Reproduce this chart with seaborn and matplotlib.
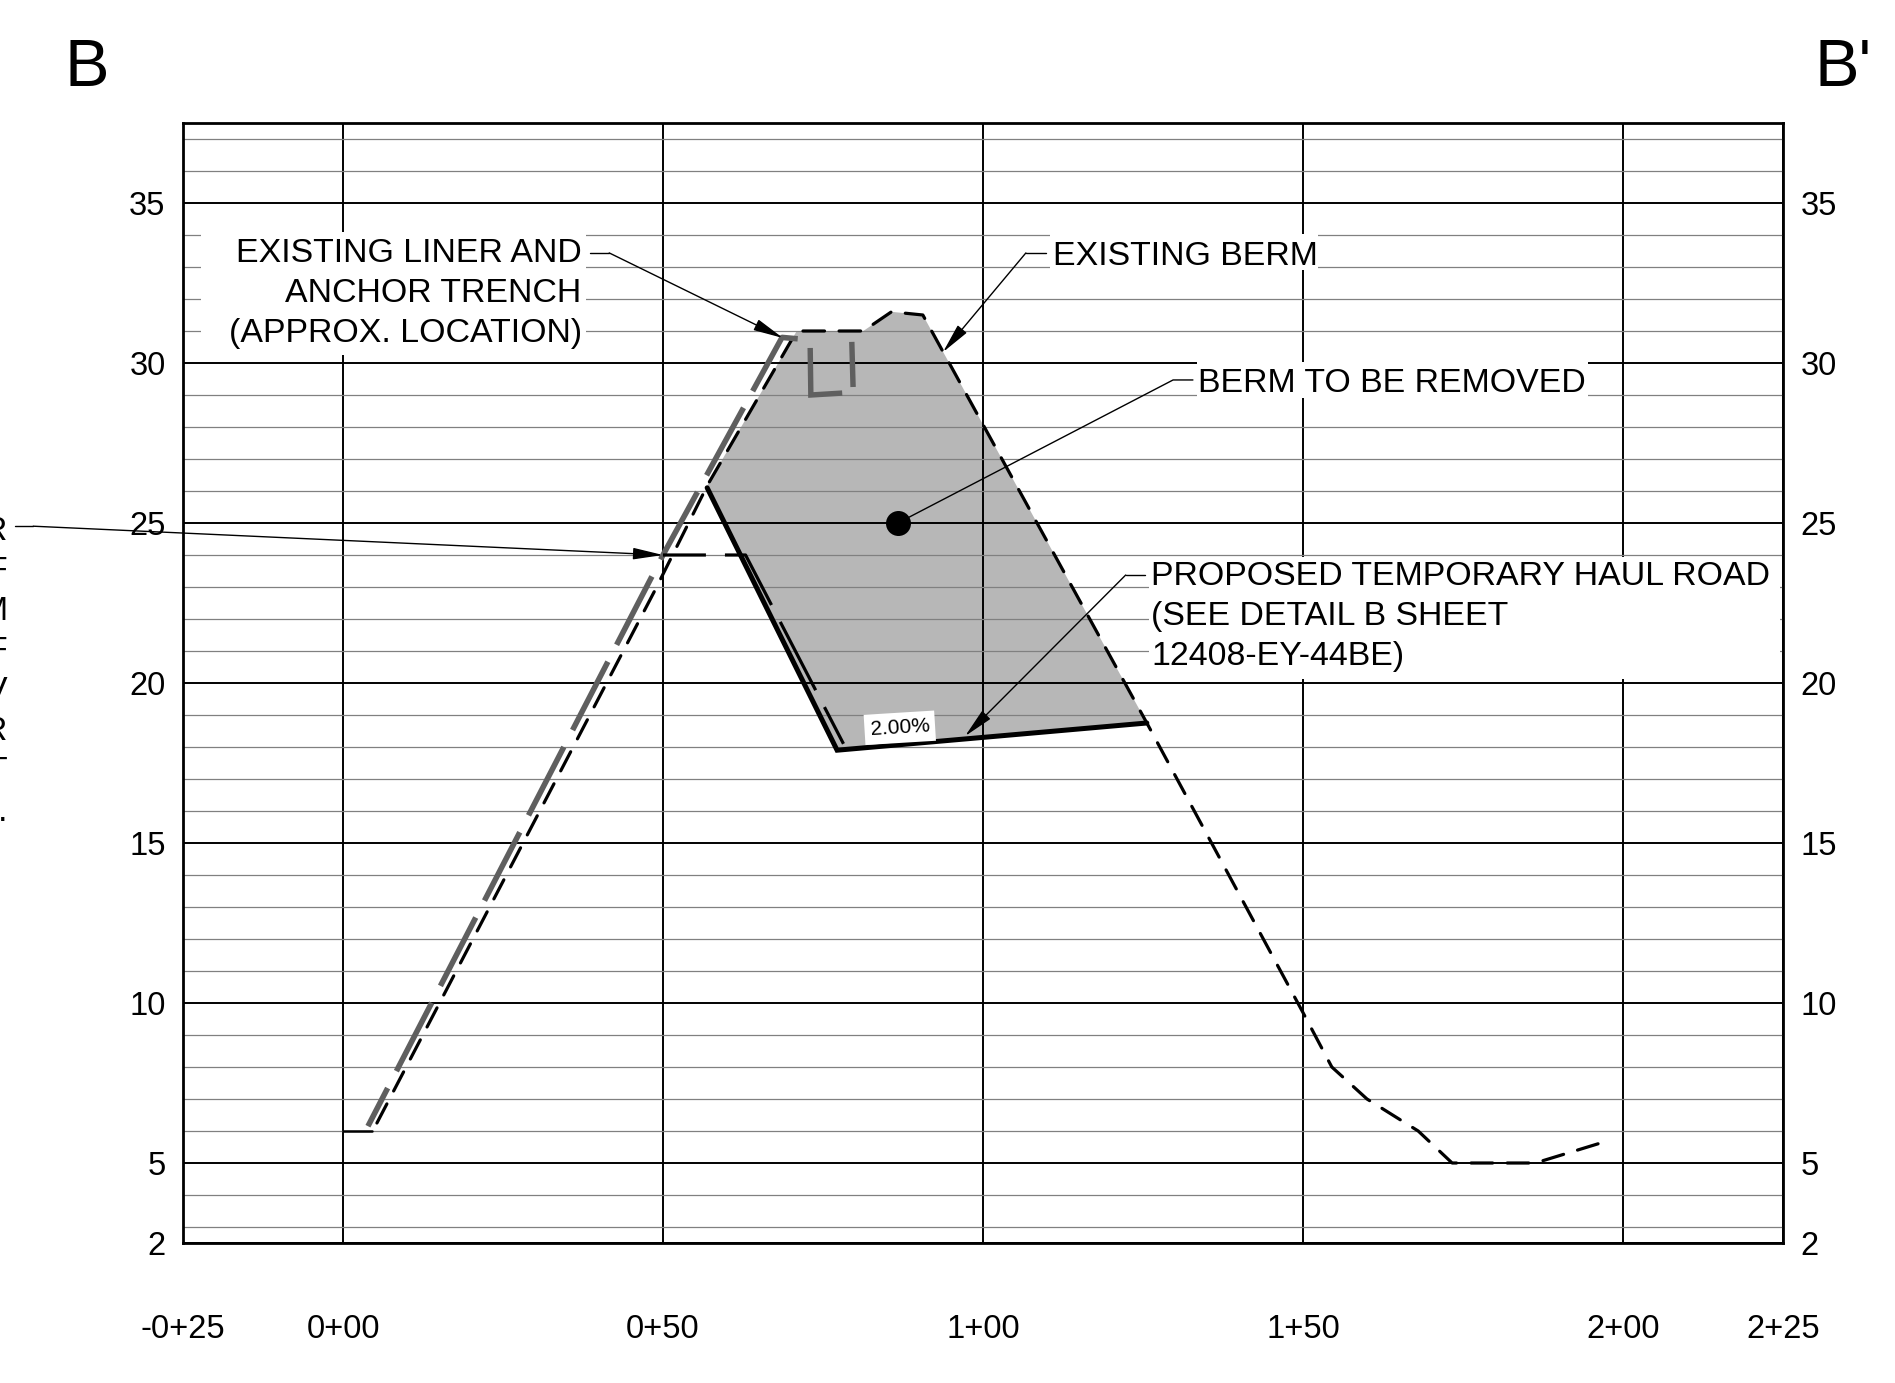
import matplotlib
matplotlib.use("Agg")
import matplotlib.pyplot as plt
from matplotlib.patches import Rectangle
import seaborn as sns

# stations are in feet, elevations in feet
station_ticks = [-25, 0, 50, 100, 150, 200, 225]
station_labels = ["-0+25", "0+00", "0+50", "1+00", "1+50", "2+00", "2+25"]
elev_ticks = [2.5, 5, 10, 15, 20, 25, 30, 35]
elev_labels = ["2", "5", "10", "15", "20", "25", "30", "35"]
elev_minor = [3, 4, 6, 7, 8, 9, 11, 12, 13, 14, 16, 17, 18, 19, 21, 22, 23, 24,
              26, 27, 28, 29, 31, 32, 33, 34, 36, 37]

# existing ground
ground_x = [5.3, 48.75, 57.0, 70.9, 81.3, 85.7, 90.6, 125.6, 150.0, 154.5, 160.0, 168.0, 173.3, 186.3, 196.1]
ground_y = [6.25, 22.9, 26.2, 31.0, 31.0, 31.6, 31.5, 18.75, 9.7, 8.0, 7.0, 6.0, 5.0, 5.0, 5.6]

# liner
liner_x = [3.9, 50.0, 68.6, 71.4]
liner_y = [6.15, 24.0, 30.8, 30.75]
toe_x = [0.0, 4.5]
toe_y = [6.0, 6.0]

# haul road
road_x = [56.9, 77.2, 125.6]
road_y = [26.1, 17.9, 18.75]
bench_x = [50.0, 62.9, 78.2]
bench_y = [24.0, 24.0, 18.1]

# berm to be removed
berm_x = [56.9, 57.0, 70.9, 81.3, 85.7, 90.6, 125.6, 77.2]
berm_y = [26.1, 26.2, 31.0, 31.0, 31.6, 31.5, 18.75, 17.9]

# the handwritten LI mark
mark_l_x = [73.0, 73.1, 78.0]
mark_l_y = [30.47, 29.0, 29.06]
mark_i_x = [79.5, 79.7]
mark_i_y = [30.66, 29.25]

dot_x = [86.7]
dot_y = [25.0]

liner_note = "EXISTING LINER AND\nANCHOR TRENCH\n(APPROX. LOCATION)"
berm_note = "EXISTING BERM"
remove_note = "BERM TO BE REMOVED"
road_note = "PROPOSED TEMPORARY HAUL ROAD\n(SEE DETAIL B SHEET\n12408-EY-44BE)"
cut_off_note = "R\nF\nM\nF\nV\nR\nT\n."

# white boxes behind the notes: x0, x1, y0, y1
masks = [(-22.2, 38.0, 30.25, 34.09),
         (110.5, 152.3, 32.9, 34.03),
         (133.4, 194.5, 28.9, 30.03),
         (125.9, 224.5, 20.125, 23.94)]

# leaders: elbow points, then arrow tip
leaders = [([38.6, 41.6], [33.44, 33.44], (68.75, 30.78)),
           ([109.8, 106.7], [33.44, 33.44], (93.75, 30.34)),
           ([125.3, 122.3], [23.375, 23.375], (97.2, 18.34)),
           ([-51.25, -48.4], [24.9, 24.9], (50.0, 24.0))]
dot_leader_x = [132.8, 129.7, 86.7]
dot_leader_y = [29.47, 29.47, 25.0]

sns.set_theme(style="white")
plt.rcParams["font.family"] = ["Liberation Sans", "DejaVu Sans"]
plt.rcParams["lines.scale_dashes"] = False

W, H = 1895, 1383
fig = plt.figure(figsize=(W / 100, H / 100), dpi=100, facecolor="white")
ax = fig.add_axes([183 / W, 1 - 1243 / H, 1600 / W, 1120 / H])

ax.set_axisbelow(True)
ax.set_xticks(station_ticks, station_labels)
ax.set_yticks(elev_ticks, elev_labels)
ax.set_yticks(elev_minor, minor=True)
ax.grid(which="major", color="black", linewidth=1.4)
ax.grid(which="minor", axis="y", color="#808080", linewidth=0.9)
ax.tick_params(axis="x", which="both", length=0, pad=51, labelsize=23.5, labelcolor="black")
ax.tick_params(axis="y", which="both", length=0, pad=12.5, labelsize=23.5, labelcolor="black",
               left=False, right=False, labelleft=True, labelright=True)
for spine in ax.spines.values():
    spine.set_linewidth(2)
    spine.set_color("black")

ax.fill(berm_x, berm_y, color="#b7b7b7", linewidth=0, zorder=0.4)
for x0, x1, y0, y1 in masks:
    ax.add_patch(Rectangle((x0, y0), x1 - x0, y1 - y0, facecolor="white", edgecolor="none", zorder=0.6))

thin_dash = (0, (15.5, 10.5))
long_dash = (24.5, (55.4, 13.7))


def line(x, y, **kws):
    sns.lineplot(x=x, y=y, ax=ax, sort=False, estimator=None, errorbar=None, legend=False, **kws)


line(ground_x, ground_y, color="black", linewidth=2.3, linestyle=thin_dash, dash_capstyle="round")
line(liner_x, liner_y, color="#5f5f5f", linewidth=4, linestyle=long_dash, dash_capstyle="butt")
line(bench_x, bench_y, color="black", linewidth=2.3, linestyle=long_dash, dash_capstyle="butt")
line(road_x, road_y, color="black", linewidth=3.6, solid_joinstyle="miter")
line(toe_x, toe_y, color="black", linewidth=1.8)
line(mark_l_x, mark_l_y, color="#5f5f5f", linewidth=3.9, solid_joinstyle="miter", solid_capstyle="butt")
line(mark_i_x, mark_i_y, color="#5f5f5f", linewidth=3.9, solid_capstyle="butt")

sns.scatterplot(x=dot_x, y=dot_y, ax=ax, color="black", s=324, linewidth=0, zorder=3, legend=False)

for lx, ly, tip in leaders:
    line(lx, ly, color="black", linewidth=1.0, clip_on=False)
    ax.annotate("", xy=tip, xytext=(lx[-1], ly[-1]),
                arrowprops=dict(arrowstyle="-|>,head_length=18.5,head_width=3.6", mutation_scale=1,
                                color="black", linewidth=1.0, shrinkA=0, shrinkB=0))
line(dot_leader_x, dot_leader_y, color="black", linewidth=1.0)

ax.set_xlim(-25, 225)
ax.set_ylim(2.5, 37.5)
ax.set_xlabel("")
ax.set_ylabel("")

# a multi line text sits on the baseline of its last line
note = dict(fontsize=24.4, color="black", va="baseline", linespacing=1.38, zorder=4)
ax.text(37.3, 30.66, liner_note, ha="right", multialignment="right", **note)
ax.text(111.0, 33.06, berm_note, ha="left", **note)
ax.text(133.6, 29.09, remove_note, ha="left", **note)
ax.text(126.3, 20.55, road_note, ha="left", multialignment="left", **note)
ax.text(-52.5, 15.7, cut_off_note, ha="right", multialignment="right", **note)

ax.text(87.0, 18.6, "2.00%", fontsize=15, color="black", rotation=3.5, ha="center", va="center",
        rotation_mode="anchor", zorder=4,
        bbox=dict(facecolor="white", edgecolor="none", pad=4))

fig.text(64 / W, 1 - 86 / H, "B", fontsize=48, color="black", ha="left", va="baseline")
fig.text(1815 / W, 1 - 86 / H, "B'", fontsize=48, color="black", ha="left", va="baseline")

fig.savefig("out.png", dpi=100, facecolor="white")
